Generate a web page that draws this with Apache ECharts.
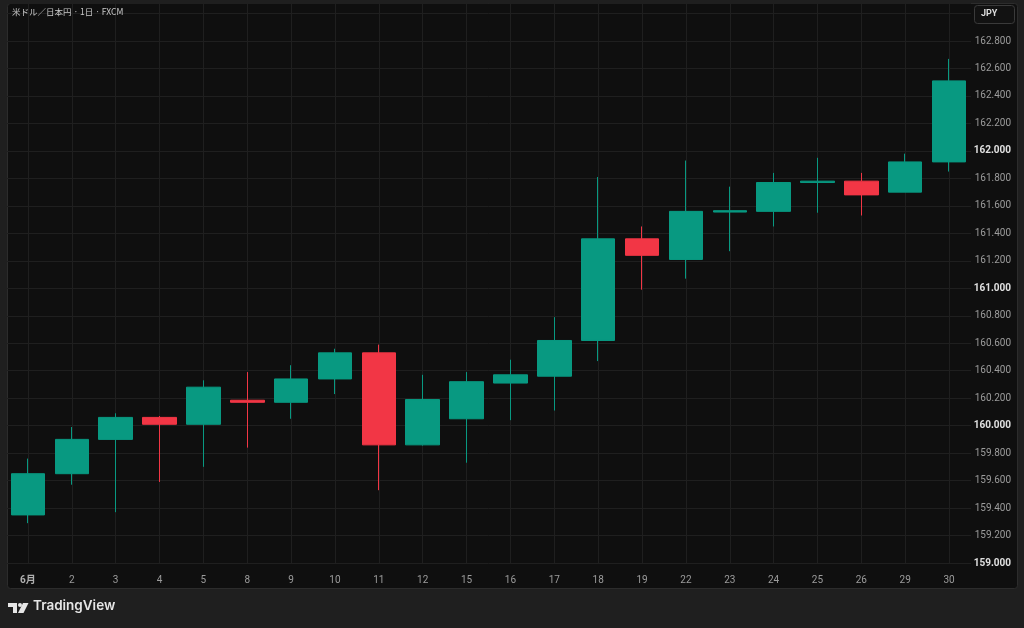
<!DOCTYPE html>
<html>
<head>
<meta charset="utf-8">
<script src="https://cdn.jsdelivr.net/npm/echarts@6/dist/echarts.min.js"></script>
<style>
html,body{margin:0;padding:0;background:#1f1f1f;}
#chart{width:1024px;height:628px;}
</style>
</head>
<body>
<div id="chart"></div>
<script>
var categories = ['6月','2','3','4','5','8','9','10','11','12','15','16','17','18','19','22','23','24','25','26','29','30'];
var opens  = [159.35,159.65,159.90,160.06,160.01,160.185,160.17,160.34,160.53,159.86,160.05,160.31,160.36,160.62,161.36,161.21,161.555,161.56,161.77,161.78,161.70,161.92];
var closes = [159.65,159.90,160.06,160.01,160.28,160.17,160.34,160.53,159.86,160.19,160.32,160.37,160.62,161.36,161.24,161.56,161.565,161.77,161.78,161.68,161.92,162.51];
var lows   = [159.29,159.57,159.37,159.59,159.70,159.84,160.05,160.23,159.53,159.855,159.73,160.04,160.11,160.47,160.99,161.07,161.27,161.45,161.55,161.53,161.70,161.85];
var highs  = [159.76,159.99,160.09,160.07,160.33,160.39,160.44,160.56,160.59,160.37,160.39,160.48,160.79,161.81,161.45,161.93,161.74,161.84,161.95,161.84,161.98,162.67];
var titleText = '米ドル／日本円 · 1日 · FXCM';
var currencyText = 'JPY';
var brandText = 'TradingView';

var candleData = categories.map(function(c, i){ return [opens[i], closes[i], lows[i], highs[i]]; });

var chart = echarts.init(document.getElementById('chart'), null, {renderer:'canvas'});
var font = 'Roboto, "Noto Sans CJK JP", sans-serif';

var option = {
  backgroundColor: '#1f1f1f',
  animation: false,
  graphic: [
    {type:'rect', z:-10, silent:true, shape:{x:7.5,y:3.5,width:1010,height:585,r:3},
     style:{fill:'#0f0f0f', stroke:'#2c2c2c', lineWidth:1}},
    {type:'text', z:10, left:12, top:8, style:{text:titleText, fill:'#c8c8c8', font:'8.5px "Noto Sans CJK JP", sans-serif'}},
    {type:'rect', z:10, shape:{x:974.5,y:5.5,width:40,height:18,r:3}, style:{fill:'#121212', stroke:'#3a3a3a', lineWidth:1}},
    {type:'text', z:11, left:981, top:9, style:{text:currencyText, fill:'#dddddd', font:'bold 9px Roboto, sans-serif'}},
    {type:'group', z:10, children:[
      {type:'polygon', shape:{points:[[8,603],[17,603],[17,613],[13,613],[13,607],[8,607]]}, style:{fill:'#e6e6e6'}},
      {type:'circle', shape:{cx:20,cy:605,r:2}, style:{fill:'#e6e6e6'}},
      {type:'polygon', shape:{points:[[23,603],[28.5,603],[23.5,613],[18,613]]}, style:{fill:'#e6e6e6'}}
    ]},
    {type:'text', z:10, left:33, top:599, style:{text:brandText, fill:'#e6e6e6', font:'600 13.5px Inter, Roboto, sans-serif'}}
  ],
  grid: {left:6, right:53, top:3, bottom:65, containLabel:false},
  xAxis: {
    type:'category',
    data: categories,
    boundaryGap: true,
    axisLine:{show:false},
    axisTick:{show:false},
    axisLabel:{
      interval:0, margin:12, color:'#9c9c9c', fontSize:10, fontFamily:font,
      formatter:function(v, i){ return i === 0 ? '{b|' + v + '}' : v; },
      rich:{b:{fontWeight:'bold', color:'#b0b0b0', fontSize:10, fontFamily:font}}
    },
    splitLine:{show:true, alignWithLabel:true, lineStyle:{color:'#1f1f1f', width:1}}
  },
  yAxis: {
    type:'value',
    position:'right',
    min:159,
    max:163.077,
    interval:0.2,
    scale:true,
    axisLine:{show:false},
    axisTick:{show:false},
    axisLabel:{
      show:true, align:'right', margin:40, color:'#9c9c9c', fontSize:10, fontFamily:font,
      showMaxLabel:false,
      formatter:function(v){
        if (v > 162.9) return '';
        var s = v.toFixed(3);
        if (Math.abs(v - Math.round(v)) < 1e-6) return '{b|' + s + '}';
        return s;
      },
      rich:{b:{fontWeight:'bold', color:'#e0e0e0', fontSize:10, fontFamily:font}}
    },
    splitLine:{show:true, lineStyle:{color:'#1f1f1f', width:1}}
  },
  series: [{
    type:'candlestick',
    data: candleData,
    barWidth: 34,
    itemStyle:{
      color:'#089981', color0:'#f23645',
      borderColor:'#089981', borderColor0:'#f23645',
      borderWidth:1
    }
  }]
};
chart.setOption(option);
</script>
</body>
</html>
